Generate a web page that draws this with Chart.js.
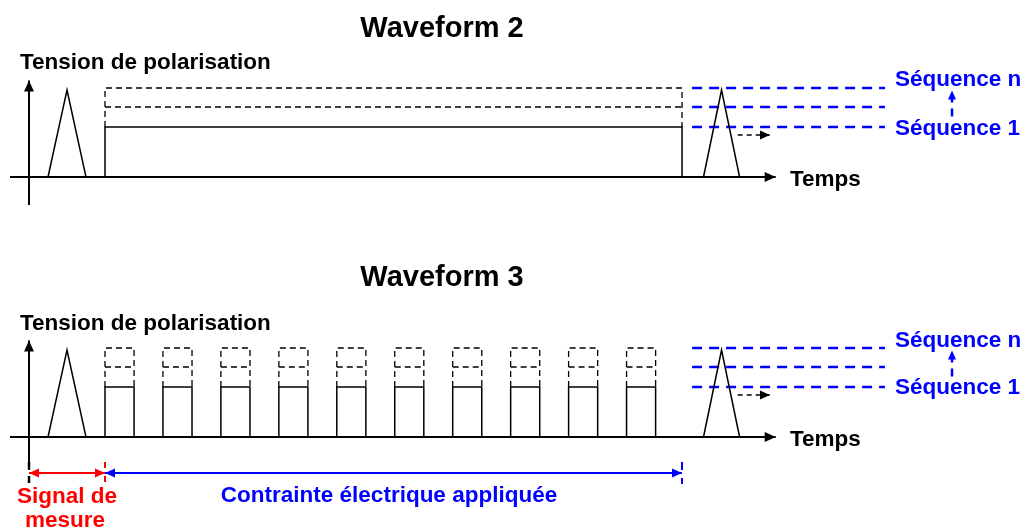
<!DOCTYPE html>
<html>
<head>
<meta charset="utf-8">
<script src="https://cdn.jsdelivr.net/npm/chart.js@4/dist/chart.umd.min.js"></script>
<style>
  html, body { margin: 0; padding: 0; background: #ffffff; }
  #box { position: relative; width: 1023px; height: 531px; }
</style>
</head>
<body>
<div id="box"><canvas id="waveChart"></canvas></div>
<script>
// time in arbitrary units (0 = origin of the voltage axis), voltage in units of the first stress level
const triangle1 = [[1, 0], [2, 1.74], [3, 0]];
const triangle2 = [[35.5, 0], [36.45, 1.74], [37.4, 0]];
const stressStart = 4;
const stressEnd = 34.37;
const levels = [1, 1.4, 1.78];          // Séquence 1 ... Séquence n
const pulseStart = [4, 7.05, 10.1, 13.15, 16.2, 19.25, 22.3, 25.35, 28.4, 31.45];
const pulseEnd = [5.53, 8.58, 11.63, 14.68, 17.73, 20.78, 23.83, 26.88, 29.93, 32.98];
const seqLineFrom = 34.9;
const seqLineTo = 45.05;
const timeAxisEnd = 39.3;
const voltAxisTop = 1.93;
const annotY = -0.72;

const BLACK = "#000000";
const BLUE = "#0000ff";
const RED = "#ff0000";

function pts(arr) { return arr.map(p => ({ x: p[0], y: p[1] })); }

function line(data, axis, opts) {
    return Object.assign({
        type: "scatter",
        showLine: true,
        data: data,
        yAxisID: axis,
        borderColor: BLACK,
        borderWidth: 1.5,
        pointRadius: 0,
        fill: false,
        spanGaps: false
    }, opts || {});
}

function panel(axis, pulses) {
    const sets = [];
    // axes
    sets.push(line(pts([[-1, 0], [timeAxisEnd, 0]]), axis, { borderWidth: 2, arrowEnd: true }));
    sets.push(line(pts([[0, axis === "yTop" ? -0.56 : -0.66], [0, voltAxisTop]]), axis, { borderWidth: 2, arrowEnd: true }));
    // measurement pulses
    sets.push(line(pts(triangle1), axis));
    sets.push(line(pts(triangle2), axis));
    // stress
    const solid = [], dashed = [];
    const starts = pulses ? pulseStart : [stressStart];
    const ends = pulses ? pulseEnd : [stressEnd];
    starts.forEach((s, i) => {
        const e = ends[i];
        solid.push({ x: s, y: 0 }, { x: s, y: levels[0] }, { x: e, y: levels[0] }, { x: e, y: 0 }, { x: e, y: null });
        dashed.push({ x: s, y: levels[0] }, { x: s, y: levels[2] }, { x: e, y: levels[2] }, { x: e, y: levels[0] }, { x: e, y: null });
        dashed.push({ x: s, y: levels[1] }, { x: e, y: levels[1] }, { x: e, y: null });
    });
    sets.push(line(solid, axis));
    sets.push(line(dashed, axis, { borderWidth: 1.3, borderDash: [6, 4] }));
    // sequence levels
    levels.forEach(l => {
        sets.push(line(pts([[seqLineFrom, l], [seqLineTo, l]]), axis, { borderColor: BLUE, borderWidth: 2.5, borderDash: [10, 7] }));
    });
    sets.push(line(pts([[48.58, 1.21], [48.58, 1.73]]), axis, { borderColor: BLUE, borderWidth: 2.5, borderDash: [8, 6], arrowEnd: true, arrowSize: 9 }));
    // next-step arrow
    sets.push(line(pts([[37.3, 0.84], [39.0, 0.84]]), axis, { borderWidth: 1.3, borderDash: [5, 4], arrowEnd: true, arrowSize: 10 }));
    return sets;
}

const datasets = panel("yTop", false).concat(panel("yBot", true));
// bottom annotations
datasets.push(line(pts([[0, annotY], [stressStart, annotY]]), "yBot", { borderColor: RED, borderWidth: 2, arrowEnd: true, arrowStart: true, arrowSize: 10 }));
datasets.push(line(pts([[stressStart, annotY], [stressEnd, annotY]]), "yBot", { borderColor: BLUE, borderWidth: 2, arrowEnd: true, arrowStart: true, arrowSize: 10 }));
datasets.push(line(pts([[0, -0.5], [0, -0.94]]), "yBot", { borderWidth: 2.5, borderDash: [7, 7] }));
datasets.push(line(pts([[stressStart, -0.5], [stressStart, -0.94]]), "yBot", { borderColor: RED, borderWidth: 2, borderDash: [6, 8] }));
datasets.push(line(pts([[stressEnd, -0.5], [stressEnd, -0.94]]), "yBot", { borderColor: BLUE, borderWidth: 2, borderDash: [8, 8] }));

// arrowheads at dataset ends
const arrowPlugin = {
    id: "arrows",
    afterDatasetsDraw(chart) {
        const ctx = chart.ctx;
        chart.data.datasets.forEach((ds, i) => {
            if (!ds.arrowEnd && !ds.arrowStart) return;
            const meta = chart.getDatasetMeta(i);
            const size = ds.arrowSize || 11;
            const head = (a, b) => {
                const ang = Math.atan2(b.y - a.y, b.x - a.x);
                ctx.save();
                ctx.fillStyle = ds.borderColor;
                ctx.translate(b.x, b.y);
                ctx.rotate(ang);
                ctx.beginPath();
                ctx.moveTo(0, 0);
                ctx.lineTo(-size, -size * 0.45);
                ctx.lineTo(-size, size * 0.45);
                ctx.closePath();
                ctx.fill();
                ctx.restore();
            };
            const p = meta.data;
            if (ds.arrowEnd) head(p[p.length - 2], p[p.length - 1]);
            if (ds.arrowStart) head(p[1], p[0]);
        });
    }
};

const labels = [
    { t: "Waveform 2", x: 442, y: 29, size: 29, c: BLACK, a: "center" },
    { t: "Tension de polarisation", x: 20, y: 63, size: 22.5, c: BLACK, a: "left" },
    { t: "Temps", x: 790, y: 180, size: 22.5, c: BLACK, a: "left" },
    { t: "Séquence n", x: 895, y: 80, size: 22.5, c: BLUE, a: "left" },
    { t: "Séquence 1", x: 895, y: 129, size: 22.5, c: BLUE, a: "left" },
    { t: "Waveform 3", x: 442, y: 278, size: 29, c: BLACK, a: "center" },
    { t: "Tension de polarisation", x: 20, y: 324, size: 22.5, c: BLACK, a: "left" },
    { t: "Temps", x: 790, y: 440, size: 22.5, c: BLACK, a: "left" },
    { t: "Séquence n", x: 895, y: 341, size: 22.5, c: BLUE, a: "left" },
    { t: "Séquence 1", x: 895, y: 388, size: 22.5, c: BLUE, a: "left" },
    { t: "Signal de", x: 67, y: 497, size: 22.5, c: RED, a: "center" },
    { t: "mesure", x: 65, y: 521, size: 22.5, c: RED, a: "center" },
    { t: "Contrainte électrique appliquée", x: 389, y: 496, size: 22.5, c: BLUE, a: "center" }
];

const textPlugin = {
    id: "texts",
    afterDraw(chart) {
        const ctx = chart.ctx;
        ctx.save();
        ctx.textBaseline = "middle";
        labels.forEach(l => {
            ctx.font = "bold " + l.size + "px 'Liberation Sans', Arial, sans-serif";
            ctx.fillStyle = l.c;
            ctx.textAlign = l.a;
            ctx.fillText(l.t, l.x, l.y);
        });
        ctx.restore();
    }
};

new Chart(document.getElementById("waveChart"), {
    type: "scatter",
    data: { datasets: datasets },
    options: {
        responsive: true,
        maintainAspectRatio: false,
        animation: false,
        layout: { padding: 0 },
        plugins: { legend: { display: false }, tooltip: { enabled: false } },
        scales: {
            x: { type: "linear", display: false, min: -29 / 19, max: 994 / 19 },
            yTop: { type: "linear", display: false, min: -(531 - 177) / 50, max: 177 / 50 },
            yBot: { type: "linear", display: false, min: -(531 - 437) / 50, max: 437 / 50 }
        }
    },
    plugins: [arrowPlugin, textPlugin]
});
</script>
</body>
</html>
